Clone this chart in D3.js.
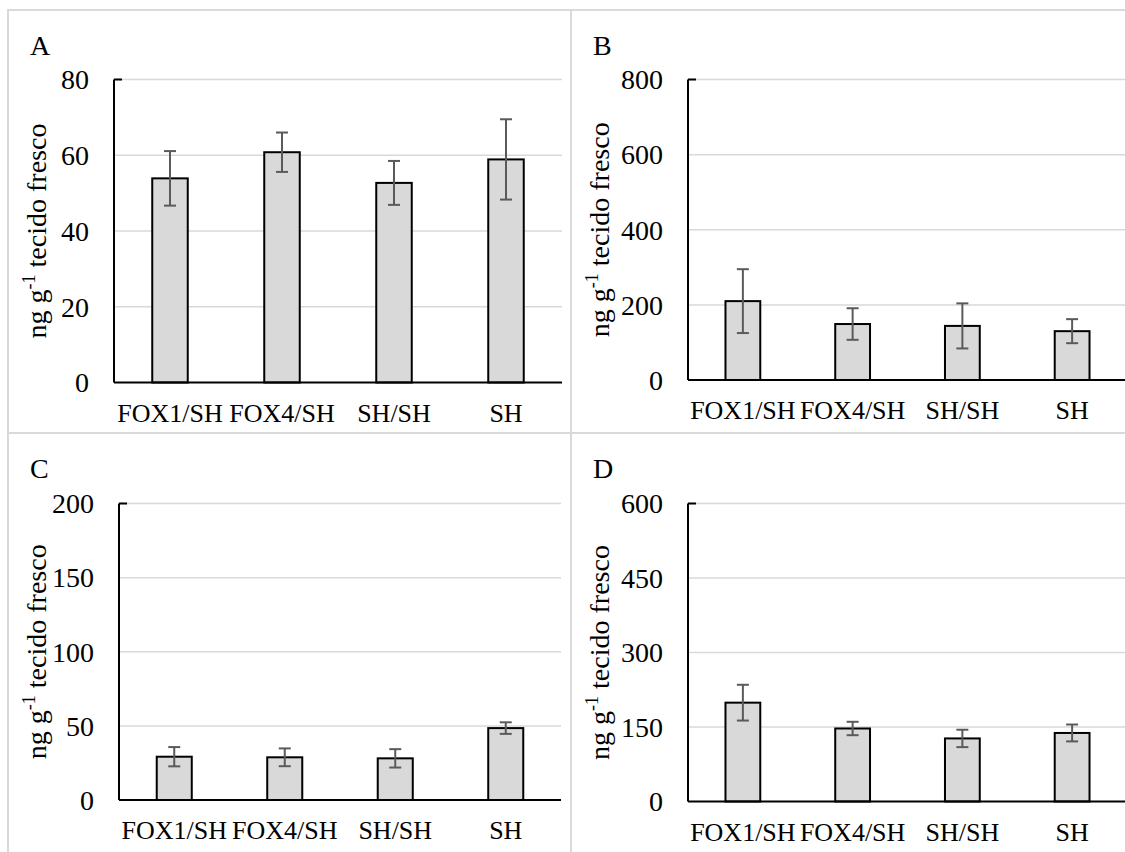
<!DOCTYPE html>
<html>
<head>
<meta charset="utf-8">
<script src="https://cdn.jsdelivr.net/npm/d3@7/dist/d3.min.js"></script>
<style>
  body { margin: 0; background: #fff; }
  svg { display: block; }
</style>
</head>
<body>
<div id="chart"></div>
<script>
"use strict";

// data
var categories = ["FOX1/SH", "FOX4/SH", "SH/SH", "SH"];
var panelNames = ["A", "B", "C", "D"];
var meansA = [53.9, 60.8, 52.7, 58.9];
var errA = [7.2, 5.2, 5.8, 10.6];
var meansB = [210, 149, 144, 130];
var errB = [85, 42, 60, 32];
var meansC = [29.2, 28.8, 28.1, 48.5];
var errC = [6.5, 6, 6.2, 3.9];
var meansD = [199, 147, 127, 138];
var errD = [36, 13.5, 17.5, 17];
var yMax = [80, 800, 200, 600];
var yStep = [20, 200, 50, 150];

var width = 1125, height = 852;
var serif = "'Liberation Serif', 'Times New Roman', 'DejaVu Serif', serif";

// panel boxes and plot areas (pixels)
var layout = [
    { box: [8, 10, 563, 423], plot: { left: 114, right: 562, top: 79.5, bottom: 382.5 } },
    { box: [571, 10, 570, 423], plot: { left: 688, right: 1127, top: 79.5, bottom: 380 } },
    { box: [8, 433, 563, 430], plot: { left: 119, right: 561, top: 503.5, bottom: 800 } },
    { box: [571, 433, 570, 430], plot: { left: 688, right: 1127, top: 503.5, bottom: 801.5 } }
];

var means = [meansA, meansB, meansC, meansD];
var errs = [errA, errB, errC, errD];

var svg = d3.select("#chart").append("svg")
    .attr("width", width)
    .attr("height", height)
    .attr("font-family", serif);

layout.forEach(function (l, i) {
    var g = svg.append("g");
    var p = l.plot;

    // panel frame
    g.append("rect")
        .attr("x", l.box[0])
        .attr("y", l.box[1])
        .attr("width", l.box[2])
        .attr("height", l.box[3])
        .attr("fill", "none")
        .attr("stroke", "#d9d9d9")
        .attr("stroke-width", 2);

    var x = d3.scaleBand()
        .domain(categories)
        .range([p.left, p.right])
        .paddingInner(0.683)
        .paddingOuter(0.683 / 2);
    var y = d3.scaleLinear()
        .domain([0, yMax[i]])
        .range([p.bottom, p.top]);
    var ticks = d3.range(0, yMax[i] + yStep[i] / 2, yStep[i]);

    // gridlines
    g.selectAll(".grid")
        .data(ticks.slice(1))
        .enter().append("line")
        .attr("x1", p.left)
        .attr("x2", p.right)
        .attr("y1", function (d) { return y(d); })
        .attr("y2", function (d) { return y(d); })
        .attr("stroke", "#d9d9d9")
        .attr("stroke-width", 1.5);

    // tick labels
    g.selectAll(".tick")
        .data(ticks)
        .enter().append("text")
        .attr("x", p.left - 25)
        .attr("y", function (d) { return y(d); })
        .attr("dy", "0.35em")
        .attr("text-anchor", "end")
        .attr("font-size", 28)
        .text(function (d) { return d; });

    var rows = categories.map(function (c, k) {
        return { cat: c, v: means[i][k], e: errs[i][k] };
    });

    // bars
    g.selectAll(".bar")
        .data(rows)
        .enter().append("rect")
        .attr("x", function (d) { return x(d.cat); })
        .attr("y", function (d) { return y(d.v); })
        .attr("width", x.bandwidth())
        .attr("height", function (d) { return y(0) - y(d.v); })
        .attr("fill", "#d9d9d9")
        .attr("stroke", "#000")
        .attr("stroke-width", 2);

    // error bars
    var eb = g.selectAll(".err")
        .data(rows)
        .enter().append("g")
        .attr("stroke", "#5a5a5a")
        .attr("stroke-width", 2);
    eb.append("line")
        .attr("x1", function (d) { return x(d.cat) + x.bandwidth() / 2; })
        .attr("x2", function (d) { return x(d.cat) + x.bandwidth() / 2; })
        .attr("y1", function (d) { return y(d.v + d.e); })
        .attr("y2", function (d) { return y(d.v - d.e); });
    [1, -1].forEach(function (s) {
        eb.append("line")
            .attr("x1", function (d) { return x(d.cat) + x.bandwidth() / 2 - 6; })
            .attr("x2", function (d) { return x(d.cat) + x.bandwidth() / 2 + 6; })
            .attr("y1", function (d) { return y(d.v + s * d.e); })
            .attr("y2", function (d) { return y(d.v + s * d.e); });
    });

    // axes
    g.append("line")
        .attr("x1", p.left).attr("x2", p.left)
        .attr("y1", p.top).attr("y2", p.bottom)
        .attr("stroke", "#000").attr("stroke-width", 2);
    g.append("line")
        .attr("x1", p.left).attr("x2", p.left + 8)
        .attr("y1", p.top).attr("y2", p.top)
        .attr("stroke", "#000").attr("stroke-width", 2);
    g.append("line")
        .attr("x1", p.left).attr("x2", p.right)
        .attr("y1", p.bottom).attr("y2", p.bottom)
        .attr("stroke", "#000").attr("stroke-width", 2);

    // category labels
    g.selectAll(".cat")
        .data(categories)
        .enter().append("text")
        .attr("x", function (d) { return x(d) + x.bandwidth() / 2; })
        .attr("y", p.bottom + 39)
        .attr("text-anchor", "middle")
        .attr("font-size", 26)
        .text(function (d) { return d; });

    // panel letter
    g.append("text")
        .attr("x", l.box[0] + 22)
        .attr("y", l.box[1] + 45)
        .attr("font-size", 28)
        .text(panelNames[i]);

    // y title
    var t = g.append("text")
        .attr("transform", "translate(" + (l.box[0] + 38) + "," + ((p.top + p.bottom) / 2) + ") rotate(-90)")
        .attr("text-anchor", "middle")
        .attr("font-size", 28);
    t.append("tspan").text("ng g");
    t.append("tspan").attr("dy", -11).attr("font-size", 18).text("-1");
    t.append("tspan").attr("dy", 11).text(" tecido fresco");
});
</script>
</body>
</html>
